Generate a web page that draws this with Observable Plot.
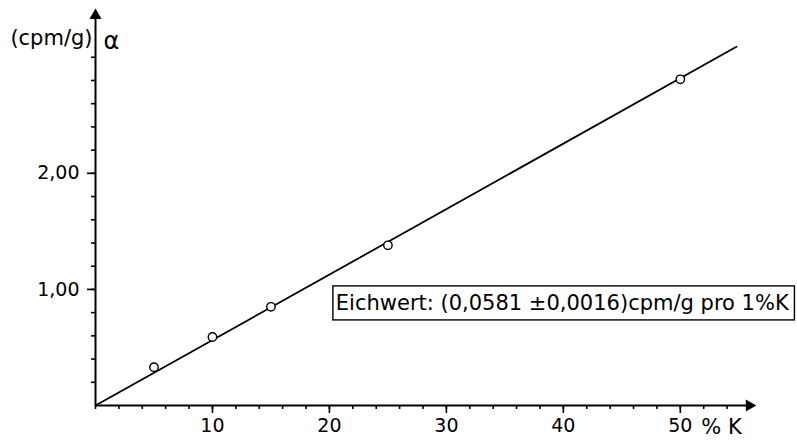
<!DOCTYPE html>
<html><head><meta charset="utf-8">
<script src="https://cdn.jsdelivr.net/npm/d3@7"></script>
<script src="https://cdn.jsdelivr.net/npm/@observablehq/plot@0.6"></script>
<style>body{margin:0;background:#fff} svg{display:block}</style>
</head><body><div id="chart"></div>
<script>
// Measured points (% K vs. cpm/g alpha)
const percentK = [5, 10, 15, 25, 50];
const cpmPerG = [0.33, 0.59, 0.85, 1.38, 2.81];
// Calibration line (drawn from origin)
const fitX = [0, 54.8];
const fitY = [0, 3.09];
// Tick labels
const xTickLabels = [10, 20, 30, 40, 50];
const xMinorTicks = [0, 2, 4, 6, 8, 10, 12, 14, 16, 18, 20, 22, 24, 26, 28, 30, 32, 34, 36, 38, 40, 42, 44, 46, 48, 50, 52, 54];
const yTickLabels = [1, 2];
const yMinorTicks = [0.2, 0.4, 0.6, 0.8, 1.0, 1.2, 1.4, 1.6, 1.8, 2.0, 2.2, 2.4, 2.6, 2.8, 3.0];
const yLabel = "(cpm/g)";
const yUnit = "α";
const xUnit = "% K";
const noteText = "Eichwert: (0,0581 ±0,0016)cpm/g pro 1%K";

const points = percentK.map((k, i) => ({k, v: cpmPerG[i]}));
const fit = fitX.map((k, i) => ({k, v: fitY[i]}));
const FONT = "DejaVu Sans";

const chart = Plot.plot({
  width: 797,
  height: 441,
  marginLeft: 95,
  marginRight: 40,
  marginTop: 8,
  marginBottom: 36,
  style: {fontFamily: FONT, background: "#fff", color: "#000"},
  x: {domain: [0, 56.6], label: null},
  y: {domain: [0, 3.42], label: null},
  marks: [
    // minor ticks
    Plot.axisX({ticks: xMinorTicks, tickSize: 4, tickFormat: () => "", strokeWidth: 1.6, label: null}),
    Plot.axisY({ticks: yMinorTicks, tickSize: 4, tickFormat: () => "", strokeWidth: 1.6, label: null}),
    // labelled ticks
    Plot.axisX({ticks: xTickLabels, tickSize: 8, tickPadding: 5, fontSize: 19, strokeWidth: 1.6,
      tickFormat: d => String(d), label: null}),
    Plot.axisY({ticks: yTickLabels, tickSize: 8, tickPadding: 8, fontSize: 19, strokeWidth: 1.6,
      tickFormat: d => d.toFixed(2).replace(".", ","), label: null}),
    // axis lines
    Plot.ruleY([0], {x1: 0, x2: 56.0, stroke: "#000", strokeWidth: 2}),
    Plot.ruleX([0], {y1: 0, y2: 3.35, stroke: "#000", strokeWidth: 2}),
    // arrow heads
    Plot.dot([{k: 55.9, v: 0}], {x: "k", y: "v", symbol: "triangle", rotate: 90, r: 4.5, fill: "#000", stroke: "none"}),
    Plot.dot([{k: 0, v: 3.36}], {x: "k", y: "v", symbol: "triangle", r: 4.5, fill: "#000", stroke: "none"}),
    // fit line
    Plot.line(fit, {x: "k", y: "v", stroke: "#000", strokeWidth: 1.8}),
    // data points
    Plot.dot(points, {x: "k", y: "v", r: 4.2, stroke: "#000", strokeWidth: 1.4, fill: "#fff"}),
    // axis unit labels
    Plot.text([yLabel], {frameAnchor: "top-left", dx: -3, dy: 22, textAnchor: "end", fontSize: 21, fill: "#000"}),
    Plot.text([yUnit], {frameAnchor: "top-left", dx: 8, dy: 23, textAnchor: "start", fontSize: 24, fill: "#000"}),
    Plot.text([{k: 50, v: 0, t: xUnit}], {x: "k", y: "v", text: "t", dx: 21, dy: 22, textAnchor: "start", fontSize: 21, fill: "#000"}),
    // annotation box
    Plot.rect([{}], {x1: 20.34, x2: 59.8, y1: 0.733, y2: 1.026, fill: "none", stroke: "#000", strokeWidth: 1.4}),
    Plot.text([{k: 20.55, v: 0.88, t: noteText}], {x: "k", y: "v", text: "t", textAnchor: "start", fontSize: 21, fill: "#000"})
  ]
});
document.getElementById("chart").appendChild(chart);
</script>
</body></html>
